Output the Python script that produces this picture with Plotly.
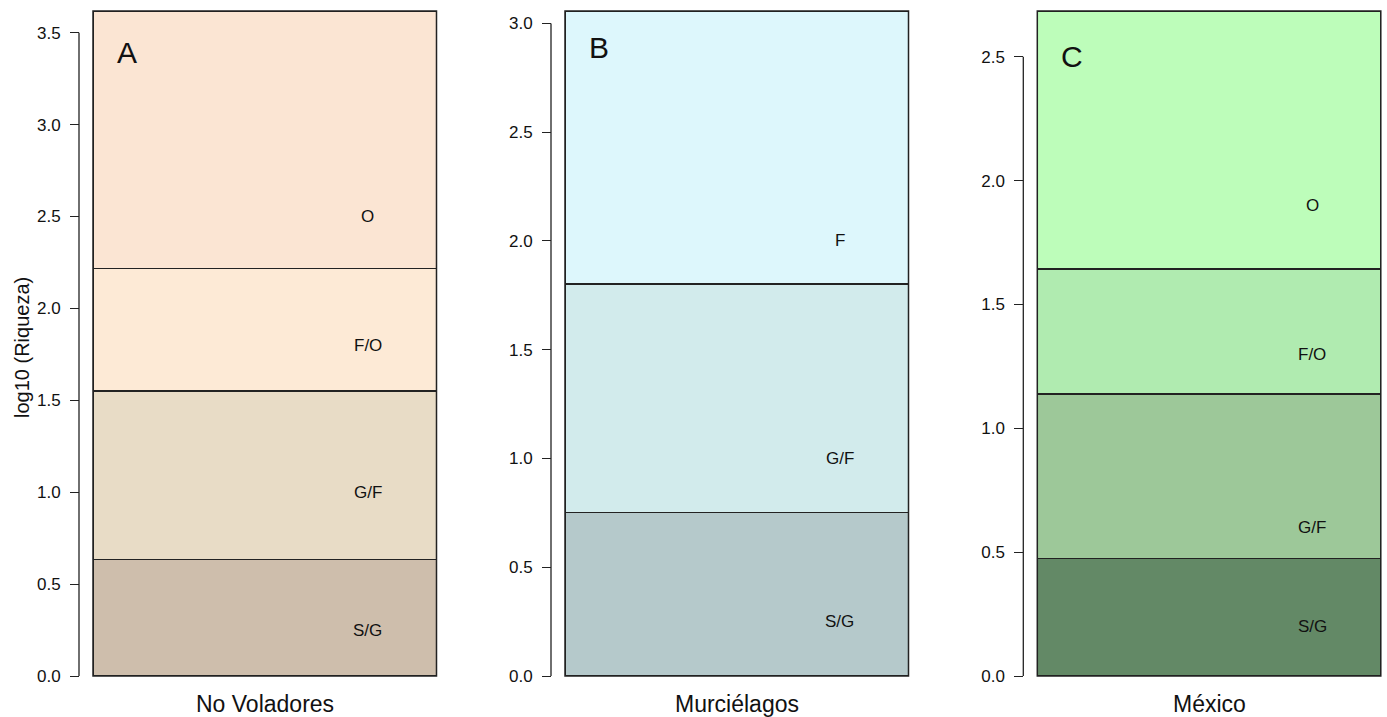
import plotly.graph_objects as go

# Groups (one stacked bar per panel)
groups = ["No Voladores", "Murciélagos", "México"]
panel_letters = ["A", "B", "C"]

# Segment names, bottom to top
seg_names_a = ["S/G", "G/F", "F/O", "O"]
seg_names_b = ["S/G", "G/F", "F"]
seg_names_c = ["S/G", "G/F", "F/O", "O"]

# Segment heights on the log10(richness) scale, bottom to top
seg_vals_a = [0.635, 0.916, 0.667, 1.400]
seg_vals_b = [0.752, 1.050, 1.255]
seg_vals_c = [0.475, 0.663, 0.505, 1.042]

# Vertical positions of the in-bar segment labels
label_y_a = [0.25, 1.0, 1.8, 2.5]
label_y_b = [0.25, 1.0, 2.0]
label_y_c = [0.2, 0.6, 1.3, 1.9]

# Panel letter heights
letter_y = [3.39, 2.89, 2.50]

# Tick values per panel
ticks_a = [0.0, 0.5, 1.0, 1.5, 2.0, 2.5, 3.0, 3.5]
ticks_b = [0.0, 0.5, 1.0, 1.5, 2.0, 2.5, 3.0]
ticks_c = [0.0, 0.5, 1.0, 1.5, 2.0, 2.5]

colors_a = ["#CEBEAC", "#E8DCC6", "#FDEAD6", "#FBE5D3"]
colors_b = ["#B5C9CB", "#D2EBEC", "#DDF7FC"]
colors_c = ["#638966", "#9DC899", "#B0EBB0", "#BDFDBA"]

W, H = 1387, 717
box_left_px = [93, 565, 1037.3]
box_w_px = 343.5
box_top_px, box_bot_px = 11, 676
axis_gap_px = 14

FONT = "Liberation Sans, Arial, Helvetica, sans-serif"
LINE = "#222222"
LW = 1.5

panels = [
    (seg_names_a, seg_vals_a, label_y_a, ticks_a, colors_a),
    (seg_names_b, seg_vals_b, label_y_b, ticks_b, colors_b),
    (seg_names_c, seg_vals_c, label_y_c, ticks_c, colors_c),
]

fig = go.Figure()
annotations = []
shapes = []
ydom = [(H - box_bot_px) / H, (H - box_top_px) / H]

for i, (names, vals, label_y, ticks, cols) in enumerate(panels):
    k = "" if i == 0 else str(i + 1)
    xa, ya = "x" + k, "y" + k
    total = sum(vals)
    for name, v, c in zip(names, vals, cols):
        fig.add_trace(go.Bar(
            x=[0], y=[v], width=1.0, name=name, xaxis=xa, yaxis=ya,
            marker=dict(color=c, line=dict(color=LINE, width=LW)),
            showlegend=False, hoverinfo="name+y",
        ))
    x0 = box_left_px[i] / W
    x1 = (box_left_px[i] + box_w_px) / W
    axis_pos = (box_left_px[i] - axis_gap_px) / W
    fig.update_layout(**{
        "xaxis" + k: dict(domain=[x0, x1], range=[-0.5, 0.5], visible=False,
                          anchor=ya, fixedrange=True),
        "yaxis" + k: dict(domain=ydom, range=[0, total], anchor="free",
                          position=axis_pos, showline=False, showgrid=False,
                          zeroline=False, ticks="outside", ticklen=9,
                          tickwidth=1.2, tickcolor=LINE, tickvals=ticks,
                          tickformat=".1f", ticklabelstandoff=6,
                          tickfont=dict(family=FONT, size=17, color="#111111"),
                          automargin=False, fixedrange=True),
    })
    # R-style axis line running from the first to the last tick
    shapes.append(dict(type="line", xref="paper", yref=ya,
                       x0=axis_pos, x1=axis_pos, y0=ticks[0], y1=ticks[-1],
                       line=dict(color=LINE, width=1.3)))
    # Bar frame
    shapes.append(dict(type="rect", xref=xa + " domain", yref=ya + " domain",
                       x0=0, x1=1, y0=0, y1=1,
                       line=dict(color=LINE, width=LW)))
    # Segment labels
    for name, ly in zip(names, label_y):
        annotations.append(dict(x=0.3, y=ly, xref=xa, yref=ya, text=name,
                                showarrow=False, xanchor="center",
                                yanchor="middle",
                                font=dict(family=FONT, size=17, color="#111111")))
    # Panel letter
    annotations.append(dict(x=-0.4, y=letter_y[i], xref=xa, yref=ya,
                            text=panel_letters[i], showarrow=False,
                            xanchor="center", yanchor="middle",
                            font=dict(family=FONT, size=30, color="#111111")))
    # Group name under the bar
    annotations.append(dict(x=(x0 + x1) / 2, y=(H - 704) / H, xref="paper",
                            yref="paper", text=groups[i], showarrow=False,
                            xanchor="center", yanchor="middle",
                            font=dict(family=FONT, size=23, color="#111111")))

annotations.append(dict(x=22 / W, y=(H - 348) / H, xref="paper", yref="paper",
                        text="log10 (Riqueza)", textangle=-90, showarrow=False,
                        xanchor="center", yanchor="middle",
                        font=dict(family=FONT, size=20, color="#111111")))

fig.update_layout(
    barmode="stack",
    width=W, height=H,
    margin=dict(l=0, r=0, t=0, b=0),
    paper_bgcolor="white", plot_bgcolor="white",
    annotations=annotations, shapes=shapes,
    showlegend=False,
)

fig.write_html("out.html")
